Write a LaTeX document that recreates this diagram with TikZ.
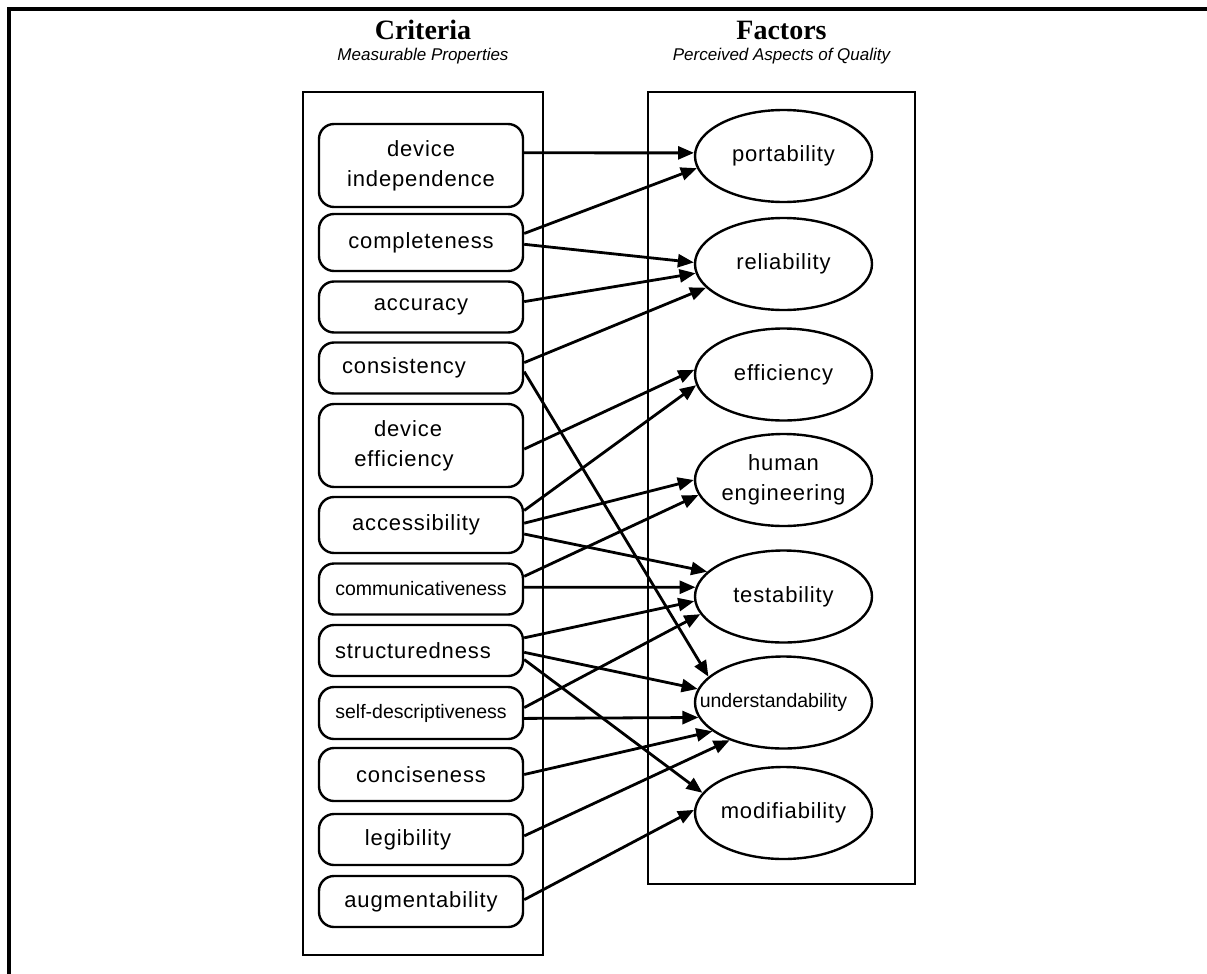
\documentclass[tikz,border=0pt]{standalone}
\usepackage{fontspec}
\setmainfont{Liberation Serif}
\setsansfont{Liberation Sans}
\newfontfamily\critfont[LetterSpace=4]{Liberation Sans}
\usetikzlibrary{arrows.meta,shapes.geometric}

\tikzset{
  crit/.style={draw, line width=2.4pt, rounded corners=15pt, minimum width=204pt,
    minimum height=51pt, inner sep=0pt, align=center,
    font=\critfont\fontsize{22}{30}\selectfont},
  petit/.style={font=\sffamily\fontsize{19.5}{24}\selectfont},
  fact/.style={draw, ellipse, line width=2.4pt, minimum width=177pt,
    minimum height=92pt, inner sep=0pt, align=center,
    font=\critfont\fontsize{22}{30}\selectfont},
  titre/.style={anchor=base, font=\bfseries\fontsize{28}{28}\selectfont},
  soustitre/.style={anchor=base, font=\sffamily\itshape\fontsize{17}{17}\selectfont},
  fleche/.style={line width=2.8pt, -{Triangle[length=16pt,width=13pt]}},
  cadre/.style={line width=2.4pt}
}

\begin{document}
\begin{tikzpicture}[x=1pt,y=-1pt]
  \useasboundingbox (0,0) rectangle (1207,974);

  % CADRE
  \draw[line width=4pt] (9,974)--(9,9)--(1207,9);

  % TITRES
  \node[titre] (T1) at (423,40) {Criteria};
  \node[soustitre] (S1) at (423,61) {Measurable Properties};
  \node[titre] (T2) at (781.5,40) {Factors};
  \node[soustitre] (S2) at (781.5,61) {Perceived Aspects of Quality};

  % BOITES
  \draw[cadre] (303,92) rectangle (543,955);
  \draw[cadre] (648,92) rectangle (915,884);

  % CRITERES
  \node[crit, minimum height=83pt] (C1) at (421,165.5) {device\\independence};
  \node[crit, minimum height=57pt] (C2) at (421,242.5) {completeness};
  \node[crit] (C3) at (421,307) {accuracy};
  \node[crit] (C4) at (421,368) {consistency\hspace*{34pt}};
  \node[crit, minimum height=83pt] (C5) at (421,445.5) {device\hspace*{26pt}\\efficiency\hspace*{34pt}};
  \node[crit, minimum height=56pt] (C6) at (421,525) {accessibility\hspace*{10pt}};
  \node[crit, petit] (C7) at (421,589) {communicativeness};
  \node[crit] (C8) at (421,650.5) {structuredness\hspace*{16pt}};
  \node[crit, petit, minimum height=52pt] (C9) at (421,713) {self-descriptiveness};
  \node[crit, minimum height=53pt] (C10) at (421,774.5) {conciseness};
  \node[crit] (C11) at (421,839.5) {legibility\hspace*{26pt}};
  \node[crit] (C12) at (421,901.5) {augmentability};

  % FACTEURS
  \node[fact] (F1) at (783.5,156) {\makebox[0pt]{portability}};
  \node[fact] (F2) at (783.5,264) {\makebox[0pt]{reliability}};
  \node[fact] (F3) at (783.5,374.5) {\makebox[0pt]{efficiency}};
  \node[fact] (F4) at (783.5,480) {\makebox[0pt]{human}\\\makebox[0pt]{engineering}};
  \node[fact] (F5) at (783.5,596.5) {\makebox[0pt]{testability}};
  \node[fact, petit] (F6) at (783.5,702.5) {\makebox[0pt]{understandability\hspace*{20pt}}};
  \node[fact] (F7) at (783.5,813) {\makebox[0pt]{modifiability}};

  % FLECHES
  \draw[fleche] (C1.7)--(F1.178);
  \draw[fleche] (C2.5)--(F1.188);
  \draw[fleche] (C2.359)--(F2.179);
  \draw[fleche] (C3.3)--(F2.186);
  \draw[fleche] (C4.3)--(F2.197);
  \draw[fleche] (C4.358)--(F6.161);
  \draw[fleche] (C5.358)--(F3.177);
  \draw[fleche] (C6.8)--(F3.187);
  \draw[fleche] (C6.1)--(F4.180);
  \draw[fleche] (C6.355)--(F5.162);
  \draw[fleche] (C7.7)--(F4.190);
  \draw[fleche] (C7.1)--(F5.174);
  \draw[fleche] (C8.7)--(F5.183);
  \draw[fleche] (C8.359)--(F6.171);
  \draw[fleche] (C8.355)--(F7.166);
  \draw[fleche] (C9.3)--(F5.192);
  \draw[fleche] (C9.357)--(F6.190);
  \draw[fleche] (C10.0)--(F6.202);
  \draw[fleche] (C11.2)--(F6.215);
  \draw[fleche] (C12.1)--(F7.178);
\end{tikzpicture}
\end{document}
